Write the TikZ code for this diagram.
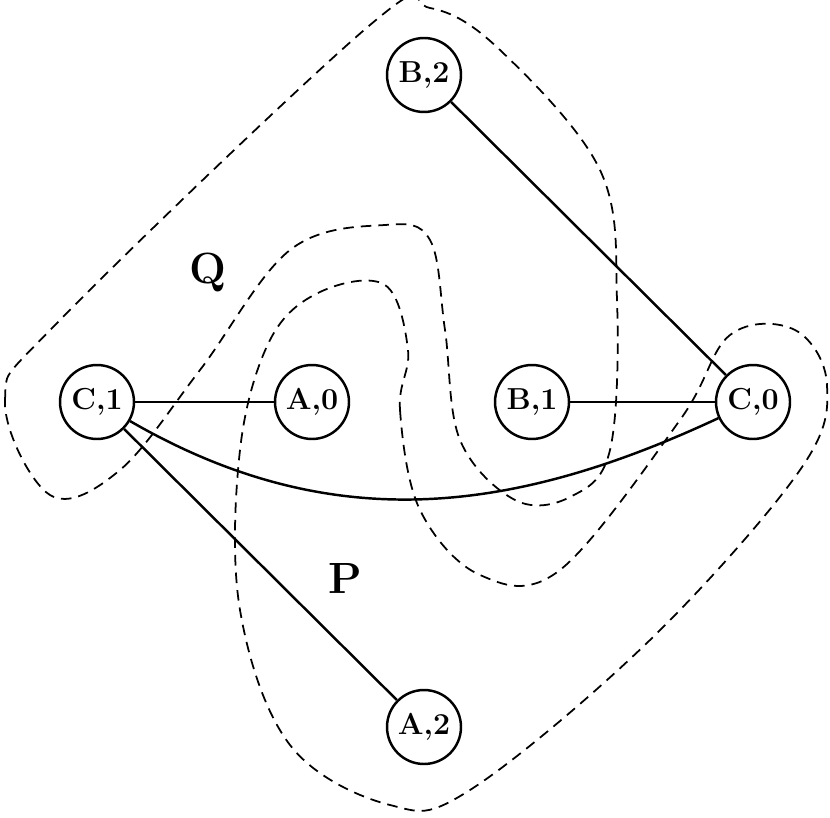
\documentclass[tikz,border=0pt]{standalone}
\usetikzlibrary{positioning}
\tikzset{
  vert/.style={circle,draw,line width=1.4pt,minimum size=1.48cm,inner sep=0pt,font=\LARGE\bfseries},
  edge/.style={line width=1.4pt},
  region/.style={dashed,line width=1pt,dash pattern=on 6pt off 4pt},
  rlabel/.style={font=\Huge\bfseries}
}
\begin{document}
\begin{tikzpicture}[x=0.02cm,y=-0.02cm]
  \useasboundingbox (0,0) rectangle (830,817);
  % vertices
  \node[vert] (b2) at (424,75) {B,2};
  \node[vert] (c1) at (97,402) {C,1};
  \node[vert] (a0) at (312,402) {A,0};
  \node[vert] (b1) at (532,402) {B,1};
  \node[vert] (c0) at (753,402) {C,0};
  \node[vert] (a2) at (424,727) {A,2};
  % edges
  \draw[edge] (c1) -- (a0);
  \draw[edge] (b1) -- (c0);
  \draw[edge] (b2) -- (c0);
  \draw[edge] (c1) -- (a2);
  \draw[edge] (c1) to[out=-30,in=-155] (c0);
  % regions
  \draw[region] plot[smooth cycle,tension=0.6] coordinates {(50,495) (5,400) (60,320) (370,25) (430,8) (500,50)
    (600,170) (617,300) (610,450) (570,497) (515,500) (460,440) (445,330) (430,240) (385,225) (290,250)
    (200,370) (120,470)};
  \draw[region] plot[smooth cycle,tension=0.6] coordinates {(408,350) (400,410) (420,510) (480,575) (560,570)
    (680,420) (730,335) (795,330) (827,385) (800,470) (650,640) (470,790) (390,805) (290,745) (240,610)
    (240,450) (270,340) (320,292) (385,285)};
  % labels
  \node[rlabel] (q) at (208,272) {Q};
  \node[rlabel] (p) at (345,578) {P};
\end{tikzpicture}
\end{document}
